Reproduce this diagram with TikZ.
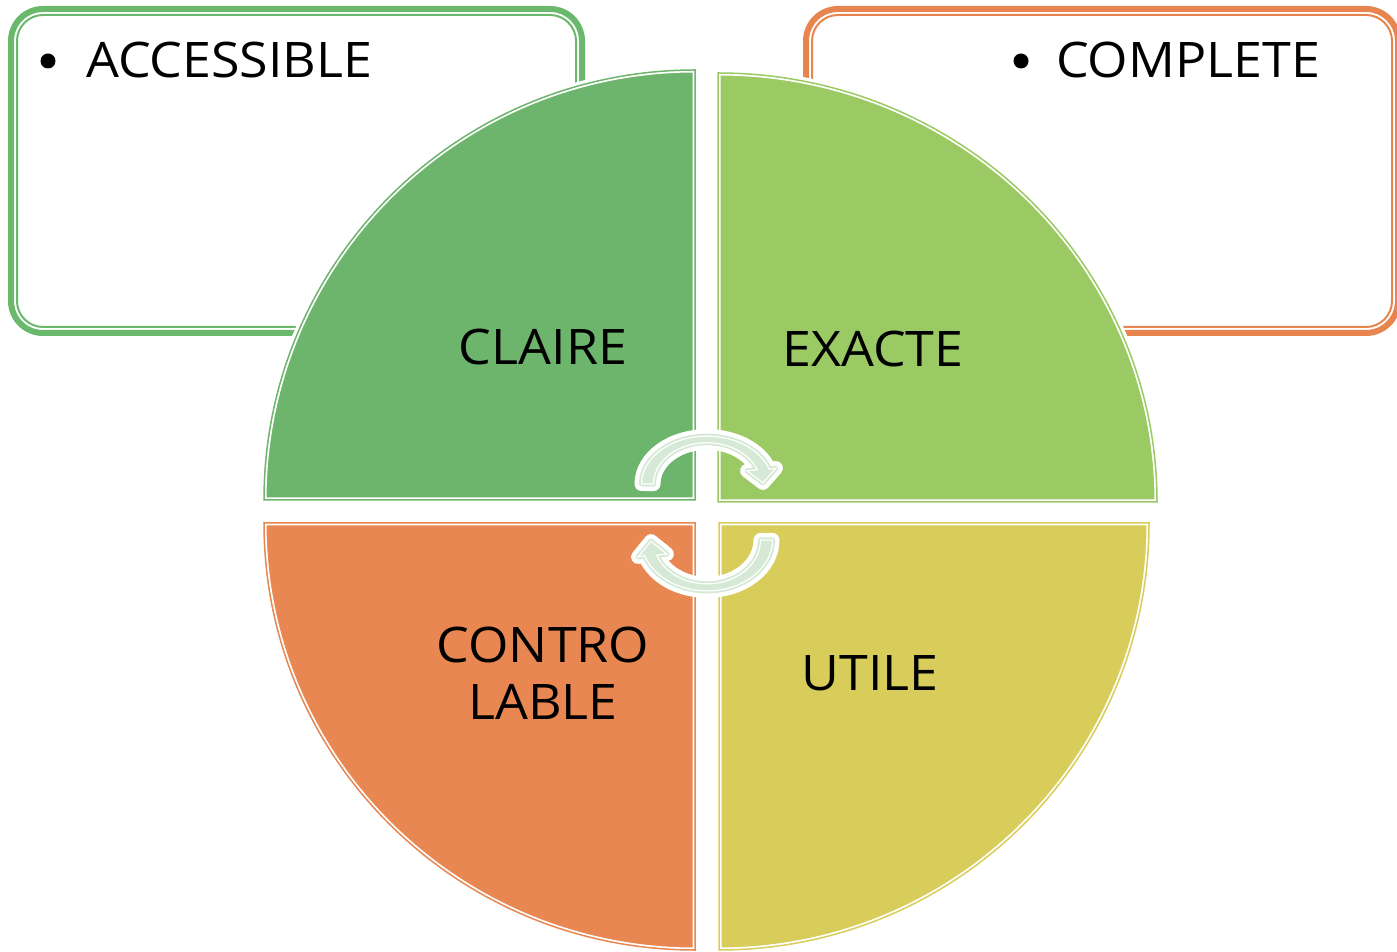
\documentclass[tikz,border=0pt]{standalone}
\usepackage{fontspec}
\setmainfont{Open Sans}[FakeStretch=1.06]
\definecolor{boxgreen}{HTML}{6AB86C}
\definecolor{boxorange}{HTML}{E8854E}
\definecolor{qgreen}{HTML}{6DB56D}
\definecolor{qlime}{HTML}{9BC963}
\definecolor{qorange}{HTML}{E88752}
\definecolor{qyellow}{HTML}{D8CD5B}
\definecolor{arrowfill}{HTML}{D6E9D6}
\begin{document}
\begin{tikzpicture}[x=1pt,y=1pt,
  lbl/.style={font=\fontsize{49}{57}\selectfont, inner sep=0pt, text=black, align=center},
  bulletdot/.style={circle, fill=black, minimum size=15, inner sep=0pt},
  outerframe/.style={draw=#1, line width=6, rounded corners=32},
  innerframe/.style={draw=#1, line width=2, rounded corners=26},
  quad/.style={fill=#1,
    preaction={draw=white, line width=8, line join=round},
    postaction={draw=white, line width=5},
    postaction={draw=#1, line width=1.5}},
  cyc/.style={fill=arrowfill,
    preaction={draw=white, line width=14, line join=round},
    preaction={draw=arrowfill, line width=5, line join=round},
    postaction={draw=white, line width=1.2}}]
\useasboundingbox (0,0) rectangle (1397,951);
\clip (0,0) rectangle (1397,951);
\fill[white] (0,0) rectangle (1397,951);

% text frames behind the circle
\path[outerframe=boxgreen] (11,618) rectangle (582,942);
\path[innerframe=boxgreen] (17,624) rectangle (576,936);
\path[outerframe=boxorange] (806,618) rectangle (1398,942);
\path[innerframe=boxorange] (812,624) rectangle (1392,936);

% four quarters of the circle
\path[quad=qgreen] (695,451) -- (264,451)
  arc[start angle=180, end angle=90, x radius=431, y radius=430] -- cycle;
\path[quad=qlime] (718,449) -- (718,878)
  arc[start angle=90, end angle=0, x radius=439, y radius=429] -- cycle;
\path[quad=qorange] (695,428) -- (695,1)
  arc[start angle=270, end angle=180, x radius=431, y radius=427] -- cycle;
\path[quad=qyellow] (719,428) -- (1149,428)
  arc[start angle=0, end angle=-90, x radius=430, y radius=427] -- cycle;

% circular arrows in the middle
\begin{scope}[shift={(707,467)}, yscale=1.1]
  \path[cyc] (-65.5,0)
    arc[start angle=180, end angle=18, x radius=65.5, y radius=43.5]
    -- (69,14.5) -- (56,1) -- (40,12) -- (50.2,13)
    arc[start angle=20.3, end angle=180, x radius=53.5, y radius=37.5] -- cycle;
\end{scope}
\begin{scope}[shift={(707,411)}, rotate=180, yscale=1.17]
  \path[cyc] (-65.5,0)
    arc[start angle=180, end angle=18, x radius=65.5, y radius=43.5]
    -- (69,14.5) -- (56,1) -- (40,12) -- (50.2,13)
    arc[start angle=20.3, end angle=180, x radius=53.5, y radius=37.5] -- cycle;
\end{scope}

% bullet lists
\node[bulletdot] (dot1) at (48,890) {};
\node[lbl, anchor=base west] (acc) at (86,873) {ACCESSIBLE};
\node[bulletdot] (dot2) at (1021,890) {};
\node[lbl, anchor=base west] (comp) at (1056,873) {COMPLETE};

% quarter labels
\node[lbl, anchor=base] (claire) at (543,586) {CLAIRE};
\node[lbl, anchor=base] (exacte) at (873,584) {EXACTE};
\node[lbl, anchor=base] (contro) at (543,232) {CONTRO\\LABLE};
\node[lbl, anchor=base] (utile) at (870,261) {UTILE};
\end{tikzpicture}
\end{document}
